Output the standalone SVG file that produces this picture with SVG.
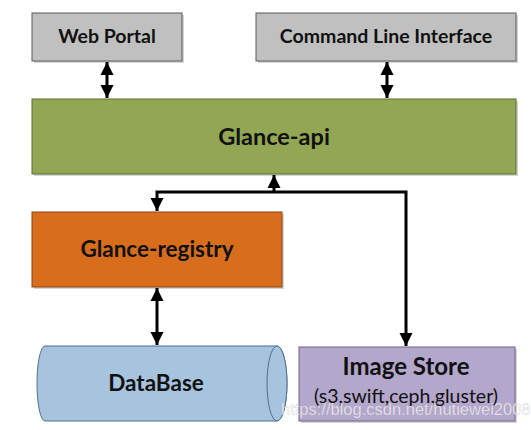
<svg xmlns="http://www.w3.org/2000/svg" width="531" height="430" viewBox="0 0 531 430">
<style>
.lbl{font-family:Lato,"Open Sans","Liberation Sans",sans-serif;font-weight:bold;fill:#111;text-anchor:middle}
.sub{font-family:Lato,"Open Sans","Liberation Sans",sans-serif;fill:#111;text-anchor:middle}
.ln{stroke:#000;stroke-width:3;fill:none}
.sh{fill:#d4d4d4}
</style>
<defs>
<marker id="ah" viewBox="0 0 10 10" refX="10" refY="5" markerWidth="4.4" markerHeight="4.4" markerUnits="strokeWidth" orient="auto-start-reverse">
<path d="M0,0 L10,5 L0,10 z" fill="#000"/>
</marker>
</defs>
<rect width="531" height="430" fill="#fff"/>
<g id="web-portal">
<rect class="sh" x="34" y="15" width="150" height="48"/>
<rect x="32" y="13" width="150" height="48" fill="#c0c0c0" stroke="#5a5a5a" stroke-width="1"/>
<text class="lbl" x="107" y="43" font-size="19.5">Web Portal</text>
</g>
<g id="cli">
<rect class="sh" x="258" y="15" width="260" height="48"/>
<rect x="256" y="13" width="260" height="48" fill="#c0c0c0" stroke="#5a5a5a" stroke-width="1"/>
<text class="lbl" x="386" y="43" font-size="19.5">Command Line Interface</text>
</g>
<g id="glance-api">
<rect class="sh" x="34" y="101" width="484" height="75"/>
<rect x="32" y="99" width="484" height="75" fill="#93a653" stroke="#5e6e33" stroke-width="1"/>
<text class="lbl" x="274" y="145" font-size="23.5">Glance-api</text>
</g>
<g id="glance-registry">
<rect class="sh" x="34" y="214" width="250" height="75"/>
<rect x="32" y="212" width="250" height="75" fill="#d86d1c" stroke="#8c4512" stroke-width="1"/>
<text class="lbl" x="157" y="257" font-size="22.5">Glance-registry</text>
</g>
<g id="database">
<path d="M45,346 L277,346 A10,37.5 0 0 1 277,421 L45,421 A8,37.5 0 0 1 45,346 Z" fill="#a7c4df" stroke="#4f6f8f" stroke-width="1"/>
<ellipse cx="277" cy="383.5" rx="10" ry="37.5" fill="#a7c4df" stroke="#4f6f8f" stroke-width="1"/>
<text class="lbl" x="156" y="391" font-size="22.5">DataBase</text>
</g>
<g id="image-store">
<rect class="sh" x="301" y="349" width="216" height="74"/>
<rect x="299" y="347" width="216" height="74" fill="#b3a7cc" stroke="#6e6388" stroke-width="1"/>
<text class="lbl" x="406" y="375" font-size="24">Image Store</text>
<text class="sub" x="406" y="403" font-size="19.5">(s3,swift,ceph,gluster)</text>
</g>
<g id="connectors">
<line class="ln" x1="107" y1="62" x2="107" y2="98" marker-start="url(#ah)" marker-end="url(#ah)"/>
<line class="ln" x1="387" y1="62" x2="387" y2="98" marker-start="url(#ah)" marker-end="url(#ah)"/>
<line class="ln" x1="274" y1="192" x2="274" y2="175" marker-end="url(#ah)"/>
<polyline class="ln" points="157,211 157,192 406,192 406,346" marker-start="url(#ah)" marker-end="url(#ah)"/>
<line class="ln" x1="157" y1="288" x2="157" y2="345" marker-start="url(#ah)" marker-end="url(#ah)"/>
</g>
<text x="281" y="415" font-family="Liberation Sans, Arial, sans-serif" font-size="16.5" fill="#ffffff" fill-opacity="0.75" stroke="#9a9a9a" stroke-opacity="0.35" stroke-width="0.6">https://blog.csdn.net/hutiewei2008</text>
</svg>
